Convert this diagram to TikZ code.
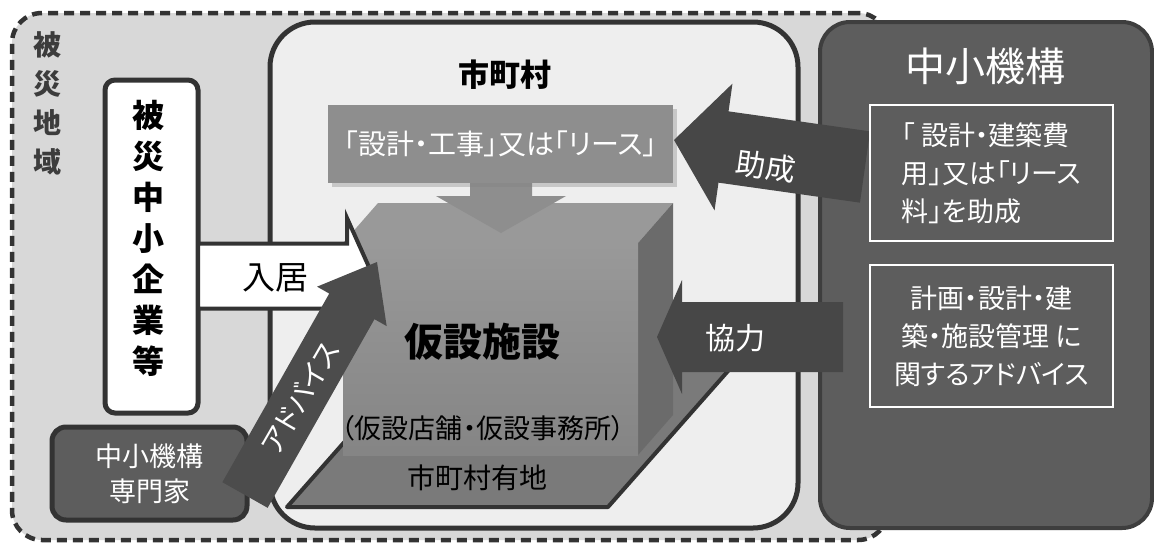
\documentclass[tikz,border=0pt]{standalone}
\usepackage{fontspec}
\setmainfont{Noto Sans CJK JP}[RawFeature=+palt]
\usetikzlibrary{calc,shadows}

\definecolor{linedark}{HTML}{333333}
\definecolor{areabg}{HTML}{D8D8D8}
\definecolor{citybg}{HTML}{EEEEEE}
\definecolor{smrjfill}{HTML}{5D5D5D}
\definecolor{smrjline}{HTML}{3E3E3E}
\definecolor{arrdark}{HTML}{474747}
\definecolor{plangray}{HTML}{8E8E8E}
\definecolor{labelgray}{HTML}{3C3C3C}

% block arrow: [style]{tail}{tip}{shaft half width}{head half width}{head length}
\newcommand{\blockarrow}[6][]{%
  \coordinate (ba-hb) at ($(#3)!#6!(#2)$);
  \path[#1] ($(#2)!#4!90:(#3)$) -- ($(ba-hb)!#4!-90:(#2)$) -- ($(ba-hb)!#5!-90:(#2)$) -- (#3)
    -- ($(ba-hb)!#5!90:(#2)$) -- ($(ba-hb)!#4!90:(#2)$) -- ($(#2)!#4!-90:(#3)$) -- cycle;}

\begin{document}
\begin{tikzpicture}[x=1pt, y=-1pt,
    area/.style={draw=linedark, line width=4.5pt, dash pattern=on 10pt off 6pt, rounded corners=30pt, fill=areabg},
    city/.style={draw=linedark, line width=5pt, rounded corners=45pt, fill=citybg},
    firm/.style={draw=linedark, line width=5pt, rounded corners=10pt, fill=white},
    expert/.style={draw=linedark, line width=5pt, rounded corners=14pt, fill=smrjfill, text=white, align=center, font=\fontsize{27}{35}\selectfont},
    smrj/.style={draw=smrjline, line width=4pt, rounded corners=30pt, fill=smrjfill},
    info/.style={draw=white, line width=2pt, minimum width=243pt, text=white, font=\fontsize{27}{38}\selectfont},
    plan/.style={fill=plangray, minimum width=345pt, minimum height=78pt, text=white, font=\fontsize{28}{32}\selectfont, drop shadow={opacity=0.35, shadow xshift=4pt, shadow yshift=-4pt}},
    darrow/.style={fill=arrdark},
    warrow/.style={fill=white, draw=linedark, line width=4pt},
    lbl/.style={text=white, font=\fontsize{30}{34}\selectfont}
]
\useasboundingbox (0,0) rectangle (1154,547);
\fill[white] (0,0) rectangle (1154,547);

% regions
\node[area, minimum width=876pt, minimum height=527pt] (area) at (450,276.5) {};
\node[smrj, minimum width=332pt, minimum height=506pt] (smrj) at (986,275) {};
\node[city, minimum width=528pt, minimum height=506pt] (city) at (534,275) {};
\node[font=\bfseries\fontsize{28}{39}\selectfont, text=labelgray, align=center] (areatxt) at (48,103) {被\\災\\地\\域};
\node[firm, minimum width=93pt, minimum height=333pt] (firm) at (151.5,246.5) {};
\node[font=\bfseries\fontsize{32}{41}\selectfont, align=center] (firmtxt) at (148,238) {被\\災\\中\\小\\企\\業\\等};
\node[font=\bfseries\fontsize{31}{36}\selectfont] (citytxt) at (505,75) {市町村};

% land and building
\draw[fill=black!52, draw=linedark, line width=4pt, line join=round]
  (287,507) -- (608,507) -- (773,320) -- (452,320) -- cycle;
\fill[black!40] (343,243) -- (378,203) -- (673,203) -- (638,243) -- cycle;
\fill[black!58] (638,243) -- (673,203) -- (673,415) -- (638,455) -- cycle;
\shade[top color=black!40, bottom color=black!48] (343,243) rectangle (638,455);
\node[font=\bfseries\fontsize{39}{44}\selectfont] (bldg) at (482,342) {仮設施設};
\node[font=\fontsize{27}{30}\selectfont] (bldgsub) at (483,428) {（仮設店舗・仮設事務所）};
\node[font=\fontsize{28}{32}\selectfont] (land) at (477,478) {市町村有地};

% design / lease
\coordinate (plantail) at (501,183);
\coordinate (plantip) at (501,233);
\blockarrow[fill=plangray]{plantail}{plantip}{31pt}{65pt}{37pt}
\node[plan] (plan) at (500.5,144) {「設計・工事」又は「リース」};

% move-in and advice
\coordinate (movetail) at (198,276);
\coordinate (movetip) at (373,276);
\blockarrow[warrow]{movetail}{movetip}{32.5pt}{58pt}{26pt}
\node[font=\fontsize{33}{36}\selectfont] (movetxt) at (275,278) {入居};
\node[expert, minimum width=195pt, minimum height=93pt] (expert) at (149.5,473.5) {中小機構\\専門家};
\coordinate (advtail) at (245,495);
\coordinate (advtip) at (377,262);
\blockarrow[fill=black!70]{advtail}{advtip}{26pt}{40pt}{51pt}
\node[lbl, font=\fontsize{28}{30}\selectfont, rotate=60, inner sep=0pt] (advtxt) at (300,398) {アドバイス};

% support from smrj
\coordinate (granttail) at (865,167);
\coordinate (granttip) at (674,140);
\blockarrow[darrow]{granttail}{granttip}{36pt}{64pt}{50pt}
\node[lbl, rotate=-8] (granttxt) at (766,166) {助成};
\coordinate (cooptail) at (843,337);
\coordinate (cooptip) at (657,337);
\blockarrow[darrow]{cooptail}{cooptip}{35pt}{57pt}{25pt}
\node[lbl] (cooptxt) at (735,338) {協力};

\node[text=white, font=\fontsize{40}{44}\selectfont] (smrjtxt) at (985,66) {中小機構};
\node[info, minimum height=136pt, align=left] (grant) at (991.5,173) {「 設計・建築費\\用」又は「リース\\料」を助成};
\node[info, minimum height=142pt, align=center] (advice) at (991.5,336) {計画・設計・建\\築・施設管理 に\\関するアドバイス};
\end{tikzpicture}
\end{document}
